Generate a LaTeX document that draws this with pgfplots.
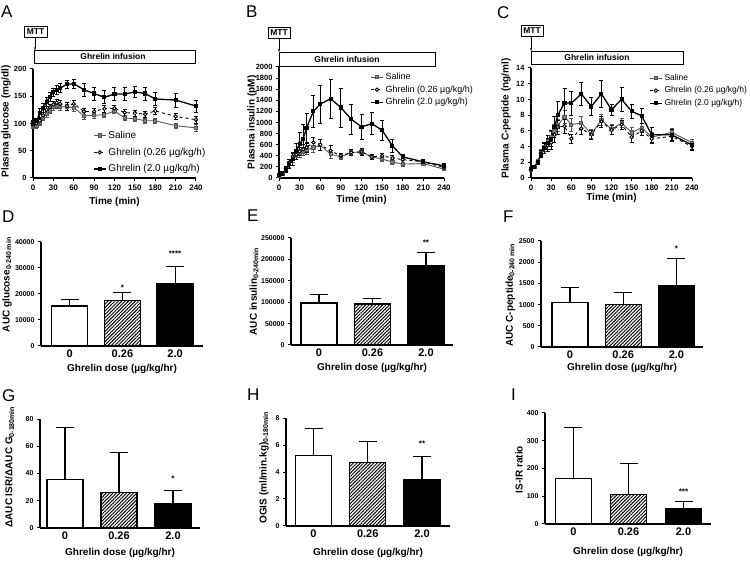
\documentclass[border=0pt]{standalone}
\usepackage{fontspec}
\setmainfont{Liberation Sans}
\usepackage{pgfplots}
\usepackage{pgfplotstable}
\pgfplotsset{compat=1.18}
\usetikzlibrary{patterns.meta,arrows.meta}

\pgfplotstableread{
t s se l le h he
0 95 4 98 4 100 5
5 96 4 100 4 104 5
10 102 5 105 5 119 8
15 110 5 115 6 128 8
20 118 6 125 6 140 8
25 124 6 130 6 149 8
30 130 6 135 6 157 8
35 133 6 138 6 162 8
40 131 6 136 6 165 8
50 130 6 132 7 172 7
60 129 6 136 7 173 8
75 114 6 122 6 162 12
90 115 6 122 5 155 12
105 116 5 127 6 148 12
120 123 5 128 6 154 12
135 110 5 120 6 154 12
150 109 5 119 6 158 10
165 105 5 117 6 155 12
180 105 4 123 6 145 12
210 96 5 113 6 143 13
240 92 6 107 6 132 11
}\tabA

\pgfplotstableread{
t s se l le h he
0 40 10 50 10 50 20
5 70 15 80 15 80 30
10 150 30 170 30 150 50
15 250 50 280 50 250 80
20 350 60 380 70 350 120
25 400 70 420 80 480 150
30 450 70 480 80 620 200
35 480 80 520 80 700 260
40 500 80 550 90 900 270
50 550 90 640 100 1200 290
60 590 100 600 100 1330 340
75 430 70 490 90 1430 350
90 380 50 400 50 1270 350
105 460 50 460 60 1060 270
120 470 50 470 60 920 220
135 380 40 380 40 980 200
150 340 40 400 50 860 180
165 290 40 360 50 580 110
180 250 40 330 50 380 50
210 260 40 290 30 290 40
240 160 30 190 40 220 50
}\tabB

\pgfplotstableread{
t s se l le h he
0 1.1 0.2 1.1 0.2 1.1 0.2
5 1.4 0.2 1.4 0.2 1.4 0.2
10 2.1 0.3 2.0 0.3 2.0 0.3
15 3.2 0.4 3.1 0.4 3.0 0.4
20 4.0 0.6 3.8 0.6 3.8 0.7
25 4.7 0.7 4.2 0.8 4.5 0.9
30 5.2 0.8 4.5 0.9 5.0 1.0
35 6.0 0.8 5.5 0.9 6.5 1.3
40 6.7 0.8 6.5 0.9 8.0 1.7
50 7.8 0.8 6.6 0.9 9.6 1.8
60 6.8 0.8 5.0 0.6 9.5 1.5
75 7.0 0.8 6.3 0.8 10.7 1.5
90 5.6 0.6 5.5 0.6 9.1 1.1
105 7.4 0.7 7.2 0.7 10.7 1.7
120 6.2 0.6 6.1 0.6 8.7 0.7
135 7.0 0.6 6.8 0.6 10.0 1.5
150 5.8 0.6 5.2 0.7 8.5 0.9
165 6.4 0.6 6.0 0.6 7.9 0.9
180 5.2 0.6 5.0 0.6 5.5 1.0
210 5.8 0.5 5.3 0.6 5.5 0.7
240 4.5 0.4 4.0 0.5 4.2 0.5
}\tabC

\definecolor{salc}{HTML}{555555}
\newcommand\lblfont{\fontsize{10}{11}\selectfont\bfseries}

\pgfplotsset{
  every axis/.append style={
    scale only axis,
    axis x line*=bottom, axis y line*=left,
    axis line style={-, line width=1.1pt},
    tick align=outside, major tick length=3pt,
    tick style={line width=1pt, black},
    /pgf/number format/assume math mode=true,
    /pgf/number format/fixed,
    /pgf/number format/precision=0,
    /pgf/number format/1000 sep={},
    scaled y ticks=false,
    clip=false,
    label style={font=\lblfont},
  },
  tc/.style={
    xmin=0, xmax=240, ymin=0, xtick={0,30,...,240},
    yticklabel style={font=\fontsize{7.5}{8}\selectfont\bfseries},
    xticklabel style={font=\fontsize{8}{8}\selectfont\bfseries},
    xlabel={Time (min)},
    legend cell align=left,
    legend image code/.code={\draw[mark repeat=2,mark phase=2,##1] plot coordinates {(0pt,0pt) (6pt,0pt) (12pt,0pt)};},
  },
  bars/.style={
    ymin=0, xtick={0,1,2}, xticklabels={0,0.26,2.0},
    xtick style={draw=none},
    yticklabel style={font=\fontsize{7}{8}\selectfont\bfseries},
    xticklabel style={font=\fontsize{11}{12}\selectfont\bfseries, yshift=3pt},
    xlabel={Ghrelin dose (µg/kg/hr)},
  },
  sal/.style={color=salc, line width=0.9pt, mark=square*, mark size=1.6pt,
    mark options={solid, fill=gray},
    error bars/y dir=both, error bars/y explicit,
    error bars/error bar style={solid, line width=0.7pt},
    error bars/error mark options={rotate=90, mark size=2pt, line width=0.7pt}},
  low/.style={color=black, dashed, line width=0.9pt, mark=*, mark size=1.7pt,
    mark options={solid, fill=white},
    error bars/y dir=both, error bars/y explicit,
    error bars/error bar style={solid, line width=0.7pt},
    error bars/error mark options={rotate=90, solid, mark size=2pt, line width=0.7pt}},
  hig/.style={color=black, line width=1.3pt, mark=square*, mark size=1.4pt,
    mark options={solid},
    error bars/y dir=both, error bars/y explicit,
    error bars/error bar style={solid, line width=0.8pt},
    error bars/error mark options={rotate=90, mark size=2pt, line width=0.8pt}},
  bb/.style={ybar, bar shift=0pt, bar width=36pt, draw=black, line width=1.2pt,
    error bars/y dir=plus, error bars/y explicit,
    error bars/error bar style={line width=1.1pt, black},
    error bars/error mark options={rotate=90, mark size=9pt, line width=1.1pt, black}},
  b0/.style={bb, fill=white},
  b1/.style={bb, fill=white, postaction={pattern={Lines[angle=45,distance=2.4pt,line width=0.95pt]}}},
  b2/.style={bb, fill=black},
}

\begin{document}
\begin{tikzpicture}
\path[use as bounding box] (0pt,0pt) rectangle (750pt,562pt);

% panel letters
\begin{scope}[every node/.style={anchor=north west, inner sep=0pt, font=\fontsize{17}{17}\selectfont}]
\node at (1pt,556pt) {A};
\node at (246pt,556pt) {B};
\node at (497pt,556pt) {C};
\node at (2pt,351pt) {D};
\node at (247pt,352pt) {E};
\node at (503pt,351pt) {F};
\node at (2pt,173pt) {G};
\node at (247pt,173pt) {H};
\node at (511pt,173pt) {I};
\end{scope}

% MTT boxes and infusion bars
\begin{scope}[line width=0.8pt, every node/.style={font=\fontsize{8.5}{9}\selectfont\bfseries}]
\draw (24pt,525pt) rectangle (47pt,536pt); \node at (35.5pt,530.5pt) {MTT};
\draw[-{Stealth[length=3pt]}] (35pt,525pt) -- (35pt,512pt);
\draw (34pt,499pt) rectangle (195pt,512pt); \node at (113pt,505.5pt) {Ghrelin infusion};
\draw (268pt,524pt) rectangle (290pt,535pt); \node at (279pt,529.5pt) {MTT};
\draw[-{Stealth[length=3pt]}] (279pt,524pt) -- (279pt,510pt);
\draw (279pt,496pt) rectangle (435pt,510pt); \node at (347pt,503pt) {Ghrelin infusion};
\draw (521pt,526pt) rectangle (543pt,537pt); \node at (532pt,531.5pt) {MTT};
\draw[-{Stealth[length=3pt]}] (531pt,526pt) -- (531pt,511pt);
\draw (531pt,498pt) rectangle (683pt,511pt); \node at (597pt,504.5pt) {Ghrelin infusion};
\end{scope}

% ---------- A
\begin{axis}[tc, at={(33pt,384pt)}, anchor=south west, width=163pt, height=109pt,
  ymax=200, ytick={0,50,...,200},
  ylabel={Plasma glucose (mg/dl)},
  ylabel style={at={(axis description cs:-0.166,0.52)}, anchor=center},
  xlabel style={at={(axis description cs:0.5,-0.22)}, anchor=center},
  legend style={at={(0.368,0.45)}, anchor=north west, draw=none, fill=none,
    font=\fontsize{10}{11}\selectfont, row sep=4pt, inner sep=0pt}]
\addplot[sal] table[x=t,y=s,y error=se] {\tabA};
\addplot[low] table[x=t,y=l,y error=le] {\tabA};
\addplot[hig] table[x=t,y=h,y error=he] {\tabA};
\legend{Saline, Ghrelin (0.26 µg/kg/h), Ghrelin (2.0 µg/kg/h)}
\end{axis}

% ---------- B
\begin{axis}[tc, at={(279pt,384pt)}, anchor=south west, width=165pt, height=111pt,
  ymax=2000, ytick={0,200,...,2000},
  ylabel={Plasma insulin (pM)},
  ylabel style={at={(axis description cs:-0.164,0.5)}, anchor=center},
  xlabel style={at={(axis description cs:0.5,-0.2)}, anchor=center},
  legend style={at={(0.552,0.964)}, anchor=north west, draw=none, fill=none,
    font=\fontsize{9}{10}\selectfont, row sep=0.5pt, inner sep=0pt}]
\addplot[sal] table[x=t,y=s,y error=se] {\tabB};
\addplot[low] table[x=t,y=l,y error=le] {\tabB};
\addplot[hig] table[x=t,y=h,y error=he] {\tabB};
\legend{Saline, Ghrelin (0.26 µg/kg/h), Ghrelin (2.0 µg/kg/h)}
\end{axis}

% ---------- C
\begin{axis}[tc, at={(531pt,384pt)}, anchor=south west, width=161pt, height=110pt,
  ymax=14, ytick={0,2,...,14},
  ylabel={Plasma C-peptide (ng/ml)},
  ylabel style={at={(axis description cs:-0.155,0.54)}, anchor=center},
  xlabel style={at={(axis description cs:0.5,-0.18)}, anchor=center},
  legend style={at={(0.733,0.964)}, anchor=north west, draw=none, fill=none,
    font=\fontsize{8.5}{9.5}\selectfont, row sep=1pt, inner sep=0pt}]
\addplot[sal] table[x=t,y=s,y error=se] {\tabC};
\addplot[low] table[x=t,y=l,y error=le] {\tabC};
\addplot[hig] table[x=t,y=h,y error=he] {\tabC};
\legend{Saline, Ghrelin (0.26 µg/kg/h), Ghrelin (2.0 µg/kg/h)}
\end{axis}

% ---------- D
\begin{axis}[bars, at={(41pt,216pt)}, anchor=south west, width=162pt, height=104pt,
  xmin=-0.547, xmax=2.53, ymax=40000, ytick={0,10000,20000,30000,40000},
  yticklabels={0,10000,20000,30000,40000},
  ylabel={AUC glucose\textsubscript{0-240 min}},
  ylabel style={at={(axis description cs:-0.21,0.59)}, anchor=center},
  xlabel style={at={(axis description cs:0.5,-0.22)}, anchor=center}]
\addplot[b0] coordinates {(0,15400) +- (0,2550)};
\addplot[b1] coordinates {(1,17560) +- (0,2950)};
\addplot[b2] coordinates {(2,24100) +- (0,6400)};
\node[font=\fontsize{8}{8}\selectfont\bfseries] at (axis cs:1,22300) {*};
\node[font=\fontsize{8}{8}\selectfont\bfseries] at (axis cs:2,35400) {****};
\end{axis}

% ---------- E
\begin{axis}[bars, at={(291pt,217pt)}, anchor=south west, width=162pt, height=107pt,
  xmin=-0.523, xmax=2.505, ymax=250000, ytick={0,50000,100000,150000,200000,250000},
  yticklabels={0,50000,100000,150000,200000,250000},
  ylabel={AUC insulin\textsubscript{0-240min}},
  ylabel style={at={(axis description cs:-0.228,0.5)}, anchor=center},
  xlabel style={at={(axis description cs:0.5,-0.21)}, anchor=center}]
\addplot[b0] coordinates {(0,98000) +- (0,20700)};
\addplot[b1] coordinates {(1,96000) +- (0,12600)};
\addplot[b2] coordinates {(2,185000) +- (0,31300)};
\node[font=\fontsize{8}{8}\selectfont\bfseries] at (axis cs:2,240000) {**};
\end{axis}

% ---------- F
\begin{axis}[bars, at={(541pt,215pt)}, anchor=south west, width=162pt, height=106pt,
  xmin=-0.545, xmax=2.5, ymax=2500, ytick={0,500,...,2500},
  ylabel={AUC C-peptide\textsubscript{0-240 min}},
  ylabel style={at={(axis description cs:-0.19,0.49)}, anchor=center},
  xlabel style={at={(axis description cs:0.5,-0.2)}, anchor=center}]
\addplot[b0] coordinates {(0,1057) +- (0,340)};
\addplot[b1] coordinates {(1,1002) +- (0,290)};
\addplot[b2] coordinates {(2,1459) +- (0,623)};
\node[font=\fontsize{8}{8}\selectfont\bfseries] at (axis cs:2,2311) {*};
\end{axis}

% ---------- G
\begin{axis}[bars, at={(40pt,34pt)}, anchor=south west, width=160pt, height=109pt,
  xmin=-0.463, xmax=2.5, ymax=80, ytick={0,20,...,80},
  ylabel={ΔAUC ISR/ΔAUC G\textsubscript{0-180min}},
  ylabel style={at={(axis description cs:-0.19,0.56)}, anchor=center},
  xlabel style={at={(axis description cs:0.5,-0.23)}, anchor=center}]
\addplot[b0] coordinates {(0,35.6) +- (0,38.3)};
\addplot[b1] coordinates {(1,26.0) +- (0,29.7)};
\addplot[b2] coordinates {(2,18.2) +- (0,9.5)};
\node[font=\fontsize{8}{8}\selectfont\bfseries] at (axis cs:2,36) {*};
\end{axis}

% ---------- H
\begin{axis}[bars, at={(286pt,36pt)}, anchor=south west, width=164pt, height=108pt,
  xmin=-0.507, xmax=2.516, ymax=8, ytick={0,2,...,8},
  ylabel={OGIS (ml/min.kg)\textsubscript{0-180min}},
  ylabel style={at={(axis description cs:-0.134,0.54)}, anchor=center},
  xlabel style={at={(axis description cs:0.5,-0.25)}, anchor=center}]
\addplot[b0] coordinates {(0,5.24) +- (0,2.0)};
\addplot[b1] coordinates {(1,4.73) +- (0,1.5)};
\addplot[b2] coordinates {(2,3.47) +- (0,1.7)};
\node[font=\fontsize{8}{8}\selectfont\bfseries] at (axis cs:2,6.07) {**};
\end{axis}

% ---------- I
\begin{axis}[bars, at={(545pt,38pt)}, anchor=south west, width=166pt, height=111pt,
  xmin=-0.518, xmax=2.5, ymax=400, ytick={0,100,...,400},
  ylabel={IS-IR ratio},
  ylabel style={at={(axis description cs:-0.157,0.49)}, anchor=center},
  xlabel style={at={(axis description cs:0.5,-0.25)}, anchor=center}]
\addplot[b0] coordinates {(0,164) +- (0,183)};
\addplot[b1] coordinates {(1,105) +- (0,113)};
\addplot[b2] coordinates {(2,54) +- (0,27)};
\node[font=\fontsize{8}{8}\selectfont\bfseries] at (axis cs:2,115) {***};
\end{axis}

\end{tikzpicture}
\end{document}
